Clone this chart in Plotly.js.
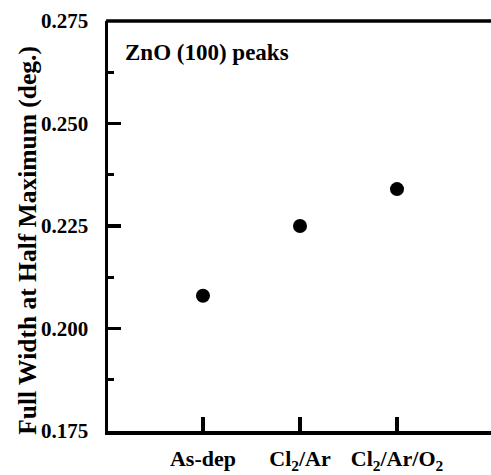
<!DOCTYPE html>
<html>
<head>
<meta charset="utf-8">
<script src="https://cdn.plot.ly/plotly-3.0.1.min.js"></script>
<style>html,body{margin:0;padding:0;background:#fff;overflow:hidden;}#chart{width:491px;height:475px;}</style>
</head>
<body>
<div id="chart"></div>
<script>
const categories = ["As-dep", "Cl<sub>2</sub>/Ar", "Cl<sub>2</sub>/Ar/O<sub>2</sub>"];
const positions = [0, 1, 2];
const fwhm = [0.208, 0.225, 0.234];
const yTicks = [0.175, 0.200, 0.225, 0.250, 0.275];
const yTickLabels = ["0.175", "0.200", "0.225", "0.250", "0.275"];
const yTitle = "Full Width at Half Maximum (deg.)";
const panelLabel = "ZnO (100) peaks";

const serif = "Liberation Serif, Times New Roman, serif";

const trace = {
  x: positions,
  y: fwhm,
  type: 'scatter',
  mode: 'markers',
  marker: {color: '#000', size: 14},
  hoverinfo: 'skip'
};

const layout = {
  width: 491, height: 475,
  margin: {l: 108, r: 0, t: 20.5, b: 44},
  paper_bgcolor: '#fff', plot_bgcolor: '#fff',
  showlegend: false,
  font: {family: serif, color: '#000'},
  xaxis: {
    range: [-0.979, 2.969],
    tickvals: positions,
    ticktext: categories,
    ticks: 'inside', ticklen: 14, tickwidth: 3.5, tickcolor: '#000',
    showline: true, linewidth: 3.5, linecolor: '#000', mirror: false,
    showgrid: false, zeroline: false,
    tickfont: {family: serif, size: 22, weight: 'bold', color: '#000'},
    ticklabelstandoff: 5
  },
  yaxis: {
    range: [0.175, 0.275],
    tickvals: yTicks,
    ticktext: yTickLabels,
    ticks: 'inside', ticklen: 12.5, tickwidth: 3.5, tickcolor: '#000',
    minor: {dtick: 0.0125, ticks: 'inside', ticklen: 6, tickwidth: 3, tickcolor: '#000', showgrid: false},
    showline: true, linewidth: 3.5, linecolor: '#000', mirror: false,
    showgrid: false, zeroline: false,
    tickfont: {family: serif, size: 21, weight: 'bold', color: '#000'},
    ticklabelstandoff: 12
  },
  shapes: [{
    type: 'line', xref: 'paper', yref: 'paper',
    x0: -0.005, x1: 1.01, y0: 1, y1: 1,
    line: {color: '#000', width: 3.5}
  }],
  annotations: [{
    xref: 'paper', yref: 'paper',
    x: (123 - 108) / 383, y: (431 - 52) / 410.5,
    xanchor: 'left', yanchor: 'middle',
    text: panelLabel, showarrow: false,
    font: {family: serif, size: 23, weight: 'bold', color: '#000'}
  }, {
    xref: 'paper', yref: 'paper',
    x: (28 - 108) / 383, y: (431 - 240.5) / 410.5,
    xanchor: 'center', yanchor: 'middle',
    text: yTitle, showarrow: false, textangle: -90,
    font: {family: serif, size: 25.5, weight: 'bold', color: '#000'}
  }]
};

Plotly.newPlot('chart', [trace], layout, {displayModeBar: false, staticPlot: true});
</script>
</body>
</html>
